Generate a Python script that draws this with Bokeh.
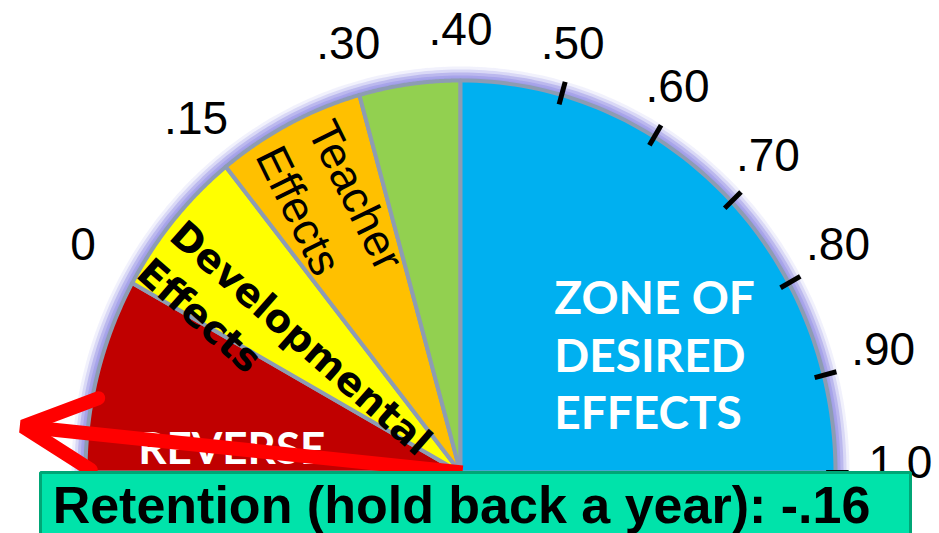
import numpy as np
from bokeh.plotting import figure
from bokeh.models import Range1d, ColumnDataSource, Arrow, OpenHead, BoxAnnotation, Label
from bokeh.core.properties import value
from bokeh.embed import file_html
from bokeh.resources import INLINE

# ---------------- data ----------------
zone_lo = [-0.20, 0.00, 0.15, 0.30, 0.40]
zone_hi = [0.00, 0.15, 0.30, 0.40, 1.00]
zone_names = ["REVERSE", "Developmental Effects", "Teacher Effects", "", "ZONE OF DESIRED EFFECTS"]
scale_values = [0.00, 0.15, 0.30, 0.40, 0.50, 0.60, 0.70, 0.80, 0.90, 1.00]
scale_labels = ["0", ".15", ".30", ".40", ".50", ".60", ".70", ".80", ".90", "1.0"]
tick_values = [0.50, 0.60, 0.70, 0.80, 0.90, 1.00]
retention_value = -0.16
retention_label = "Retention (hold back a year): -.16"

# ---------------- layout / style ----------------
W, H = 939, 533
CX, CY = 460.0, 472.0          # gauge hub
RA, RB = 375.0, 392.0          # gauge half axes
HINGE, DEG_PER_UNIT = 0.40, 150.0
zone_colors = ["#C00000", "#FFFF00", "#FFC000", "#92D050", "#00B0F0"]
SEP = "#8D9CB3"
GLOW = "#A29FE8"


def ang(v):
    return np.radians((np.asarray(v, dtype=float) - HINGE) * DEG_PER_UNIT)


def rad(t):
    return 1.0 / np.sqrt((np.sin(t) / RA) ** 2 + (np.cos(t) / RB) ** 2)


def pt(t, r):
    return CX + r * np.sin(t), CY - r * np.cos(t)


p = figure(width=W, height=H, output_backend="svg", toolbar_location=None,
           x_range=Range1d(0, W), y_range=Range1d(H, 0),
           min_border=0, outline_line_color=None,
           background_fill_color="white", border_fill_color="white")
p.axis.visible = False
p.grid.visible = False

# glow behind the dial
t_all = np.linspace(ang(zone_lo[0]), ang(zone_hi[-1]), 240)
for g, a in [(14, 0.15), (11, 0.3), (8, 0.55), (5, 0.8), (3, 1.0)]:
    gx, gy = pt(t_all, rad(t_all) + g)
    p.patch(list(gx) + [CX], list(gy) + [CY], fill_color=GLOW, fill_alpha=a, line_color=None)

# zone wedges
wx, wy = [], []
for lo, hi in zip(zone_lo, zone_hi):
    ts = np.linspace(ang(lo), ang(hi), 80)
    ax, ay = pt(ts, rad(ts))
    wx.append([CX] + list(ax))
    wy.append([CY] + list(ay))
p.patches(xs="xs", ys="ys", source=ColumnDataSource(dict(xs=wx, ys=wy, c=zone_colors)),
          fill_color="c", line_color=SEP, line_width=4, line_join="round")

# ---- zone texts ----
def nvec(t):
    return np.cos(t), np.sin(t)

# Teacher Effects (two lines, radial)
tm = float(ang((zone_lo[2] + zone_hi[2]) / 2))
x0, y0 = pt(tm, 0.965 * rad(tm))
nx, ny = nvec(tm)
rot = -(np.pi / 2 - abs(tm))
words = zone_names[2].split()
s = 58
p.text(x=[x0 + nx * s / 2, x0 - nx * s / 2], y=[y0 + ny * s / 2, y0 - ny * s / 2], text=words,
       angle=rot, text_font=value("Liberation Sans"), text_font_size="45px",
       text_align="left", text_baseline="middle", text_color="black")

# Developmental Effects
tm = float(ang((zone_lo[1] + zone_hi[1]) / 2))
x0, y0 = pt(tm, 0.98 * rad(tm))
nx, ny = nvec(tm)
rot = -(np.pi / 2 - abs(tm))
words = zone_names[1].split()
s = 50
p.text(x=[x0 - nx * 4, x0 - nx * (s + 4)], y=[y0 - ny * 4, y0 - ny * (s + 4)], text=words,
       angle=rot, text_font=value("DejaVu Sans"), text_font_style="bold", text_font_size="39px",
       text_align="left", text_baseline="middle", text_color="black")

# REVERSE
p.text(x=[CX - 0.61 * RA], y=[CY - 0.065 * RB], text=[zone_names[0]],
       text_font=value("Lato"), text_font_style="bold", text_font_size="44px",
       text_align="center", text_baseline="middle", text_color="white")

# ZONE OF DESIRED EFFECTS
zw = zone_names[4].split()
zlines = [" ".join(zw[:2]), zw[2], zw[3]]
p.text(x=[CX + 0.25 * RA] * 3, y=[CY - RB * f for f in (0.45, 0.30, 0.155)], text=zlines,
       text_font=value("Lato"), text_font_style="bold", text_font_size="46px",
       text_align="left", text_baseline="middle", text_color="white")

# tick marks
tt = ang(tick_values)
r = rad(tt)
x1, y1 = pt(tt, r * 0.975)
x2, y2 = pt(tt, r * 1.035)
p.segment(x0=x1, y0=y1, x1=x2, y1=y2, line_color="black", line_width=5)

# scale labels
ts = ang(scale_values) * 0.985
lx = CX + (RA + 65) * np.sin(ts)
ly = CY - (RB + 52) * np.cos(ts)
p.text(x=lx, y=ly, text=scale_labels, text_font=value("Liberation Sans"), text_font_size="46px",
       text_align="center", text_baseline="middle", text_color="black")

# retention arrow
ta = float(ang(retention_value))
ex, ey = pt(ta, 440)
p.add_layout(Arrow(x_start=CX + 2, y_start=CY, x_end=ex, y_end=ey,
                   line_color="#FF0000", line_width=14,
                   end=OpenHead(size=72, line_color="#FF0000", line_width=14, line_cap="round")))

# bottom caption box
p.add_layout(BoxAnnotation(left=40, right=910, top=472, bottom=560,
                           fill_color="#00E3AA", fill_alpha=1.0,
                           line_color="#00A676", line_width=3, line_alpha=1.0))
p.add_layout(Label(x=461, y=504, text=retention_label, text_align="center", text_baseline="middle",
                   text_font="Liberation Sans", text_font_style="bold", text_font_size="52px",
                   text_color="black"))

open("out.html", "w").write(file_html(p, INLINE))
